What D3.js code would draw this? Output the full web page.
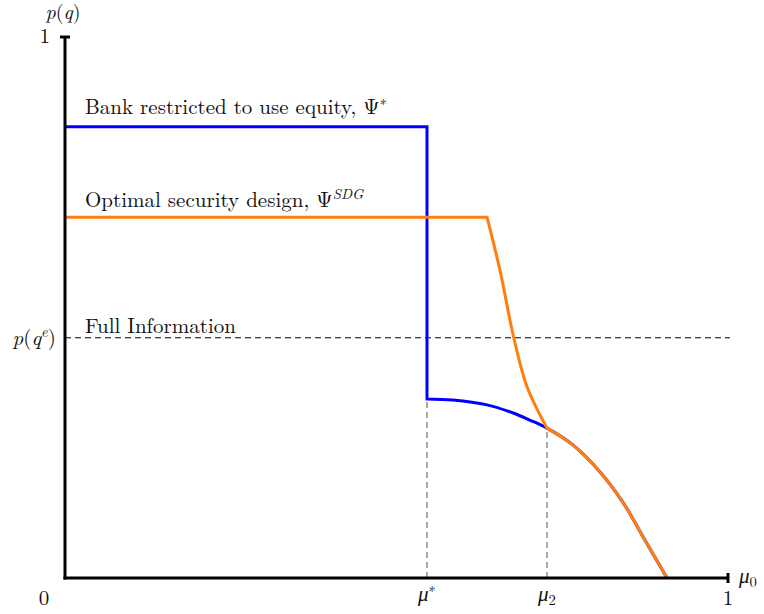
<!DOCTYPE html>
<html>
<head>
<meta charset="utf-8">
<script src="https://cdn.jsdelivr.net/npm/d3@7"></script>
<style>
  html, body { margin: 0; padding: 0; background: #fff; }
  svg { display: block; }
  text { font-family: "Latin Modern Roman", "CMU Serif", "Liberation Serif", serif; fill: #111; }
</style>
</head>
<body>
<svg id="chart" width="764" height="614"></svg>
<script>
// Threshold values on the μ0 axis
const muStar = 0.546;
const mu2 = 0.727;
const fullInfo = 0.444;

// Ψ*: bank restricted to use equity
const equityFlat = 0.834;
const equityCurve = [
  [0.546, 0.331], [0.585, 0.329], [0.6365, 0.320], [0.676, 0.305], [0.701, 0.292],
  [0.727, 0.277], [0.766, 0.246], [0.807, 0.196], [0.842, 0.139], [0.872, 0.076], [0.908, 0.0]
];

// Ψ^SDG: optimal security design
const sdgFlat = 0.667;
const sdgKink = 0.6365;
const sdgDrop = [
  [0.6365, 0.667], [0.656, 0.569], [0.677, 0.4436], [0.697, 0.353], [0.727, 0.277]
];

const svg = d3.select("#chart");
const x = d3.scaleLinear().domain([0, 1]).range([65, 728]);
const y = d3.scaleLinear().domain([0, 1]).range([578, 37]);

const line = d3.line().x(d => x(d[0])).y(d => y(d[1]));
const smooth = d3.line().x(d => x(d[0])).y(d => y(d[1])).curve(d3.curveCatmullRom.alpha(0.5));

// Full-information reference level
svg.append("line")
  .attr("x1", x(0)).attr("x2", x(1.003))
  .attr("y1", y(fullInfo)).attr("y2", y(fullInfo))
  .attr("stroke", "#000").attr("stroke-width", 1).attr("stroke-dasharray", "6,4");

// Value of the equity curve at a given μ0 (piecewise-linear lookup)
const eqAt = m => {
  for (let i = 1; i < equityCurve.length; i++) {
    const [a, va] = equityCurve[i - 1], [b, vb] = equityCurve[i];
    if (m <= b) return va + (vb - va) * (m - a) / (b - a);
  }
  return 0;
};
[muStar, mu2].forEach(m => {
  svg.append("line")
    .attr("x1", x(m)).attr("x2", x(m))
    .attr("y1", y(0)).attr("y2", y(eqAt(m)))
    .attr("stroke", "#555").attr("stroke-width", 1).attr("stroke-dasharray", "6,4");
});

// Ψ* path
const equityPath = [[0, equityFlat], [muStar, equityFlat], [muStar, equityCurve[0][1]]];
svg.append("path")
  .attr("d", line(equityPath) + smooth(equityCurve).replace(/^M/, "L"))
  .attr("fill", "none").attr("stroke", "#0000ff").attr("stroke-width", 3)
  .attr("stroke-linejoin", "miter");

// Ψ^SDG path: flat, steep drop, then follows Ψ* beyond μ2
const sdgTail = equityCurve.filter(d => d[0] >= mu2);
svg.append("path")
  .attr("d", line([[0, sdgFlat], [sdgKink, sdgFlat]]) +
             smooth(sdgDrop).replace(/^M/, "L") +
             smooth(sdgTail).replace(/^M/, "L"))
  .attr("fill", "none").attr("stroke", "#ff7f0e").attr("stroke-width", 3)
  .attr("stroke-linejoin", "miter");

// Axes
svg.append("line").attr("x1", x(0)).attr("x2", x(0)).attr("y1", y(0) + 1.5).attr("y2", y(1))
  .attr("stroke", "#000").attr("stroke-width", 3);
svg.append("line").attr("x1", x(0) - 1.5).attr("x2", x(1)).attr("y1", y(0)).attr("y2", y(0))
  .attr("stroke", "#000").attr("stroke-width", 3);
svg.append("line").attr("x1", x(0) - 5).attr("x2", x(0) + 5).attr("y1", y(1)).attr("y2", y(1))
  .attr("stroke", "#000").attr("stroke-width", 3);
svg.append("line").attr("x1", x(1)).attr("x2", x(1)).attr("y1", y(0) - 5).attr("y2", y(0) + 5)
  .attr("stroke", "#000").attr("stroke-width", 3);

const fs = 21;
function label(tx, ty, parts, anchor, size) {
  const f = size || fs;
  const t = svg.append("text").attr("x", tx).attr("y", ty)
    .attr("font-size", f).attr("text-anchor", anchor || "start");
  let shift = 0;
  parts.forEach(p => {
    const s = t.append("tspan").text(p.t);
    let target = 0;
    if (p.i) s.attr("font-style", "italic");
    if (p.sup) { target = -8; s.attr("font-size", f * 0.7); }
    if (p.sub) { target = 4; s.attr("font-size", f * 0.7); }
    if (target !== shift) { s.attr("dy", target - shift); shift = target; }
  });
  return t;
}

// Axis labels and ticks
label(63, 19, [{t: "p", i: 1}, {t: "("}, {t: "q", i: 1}, {t: ")"}], "middle", 20);
label(50, 43, [{t: "1"}], "end");
label(44, 605, [{t: "0"}], "middle");
label(728, 605, [{t: "1"}], "middle");
label(739, 583, [{t: "μ", i: 1}, {t: "0", sub: 1}], "start");
label(x(muStar), 601, [{t: "μ", i: 1}, {t: "∗", sup: 1}], "middle");
label(x(mu2), 601, [{t: "μ", i: 1}, {t: "2", sub: 1}], "middle");
label(56, y(fullInfo) + 7, [{t: "p", i: 1}, {t: "("}, {t: "q", i: 1}, {t: "e", i: 1, sup: 1}, {t: ")"}], "end");

// Series annotations
label(85, 114, [{t: "Bank restricted to use equity, Ψ"}, {t: "∗", sup: 1}]);
label(85, 207, [{t: "Optimal security design, Ψ"}, {t: "SDG", i: 1, sup: 1}]);
label(85, 333, [{t: "Full Information"}]);
</script>
</body>
</html>
